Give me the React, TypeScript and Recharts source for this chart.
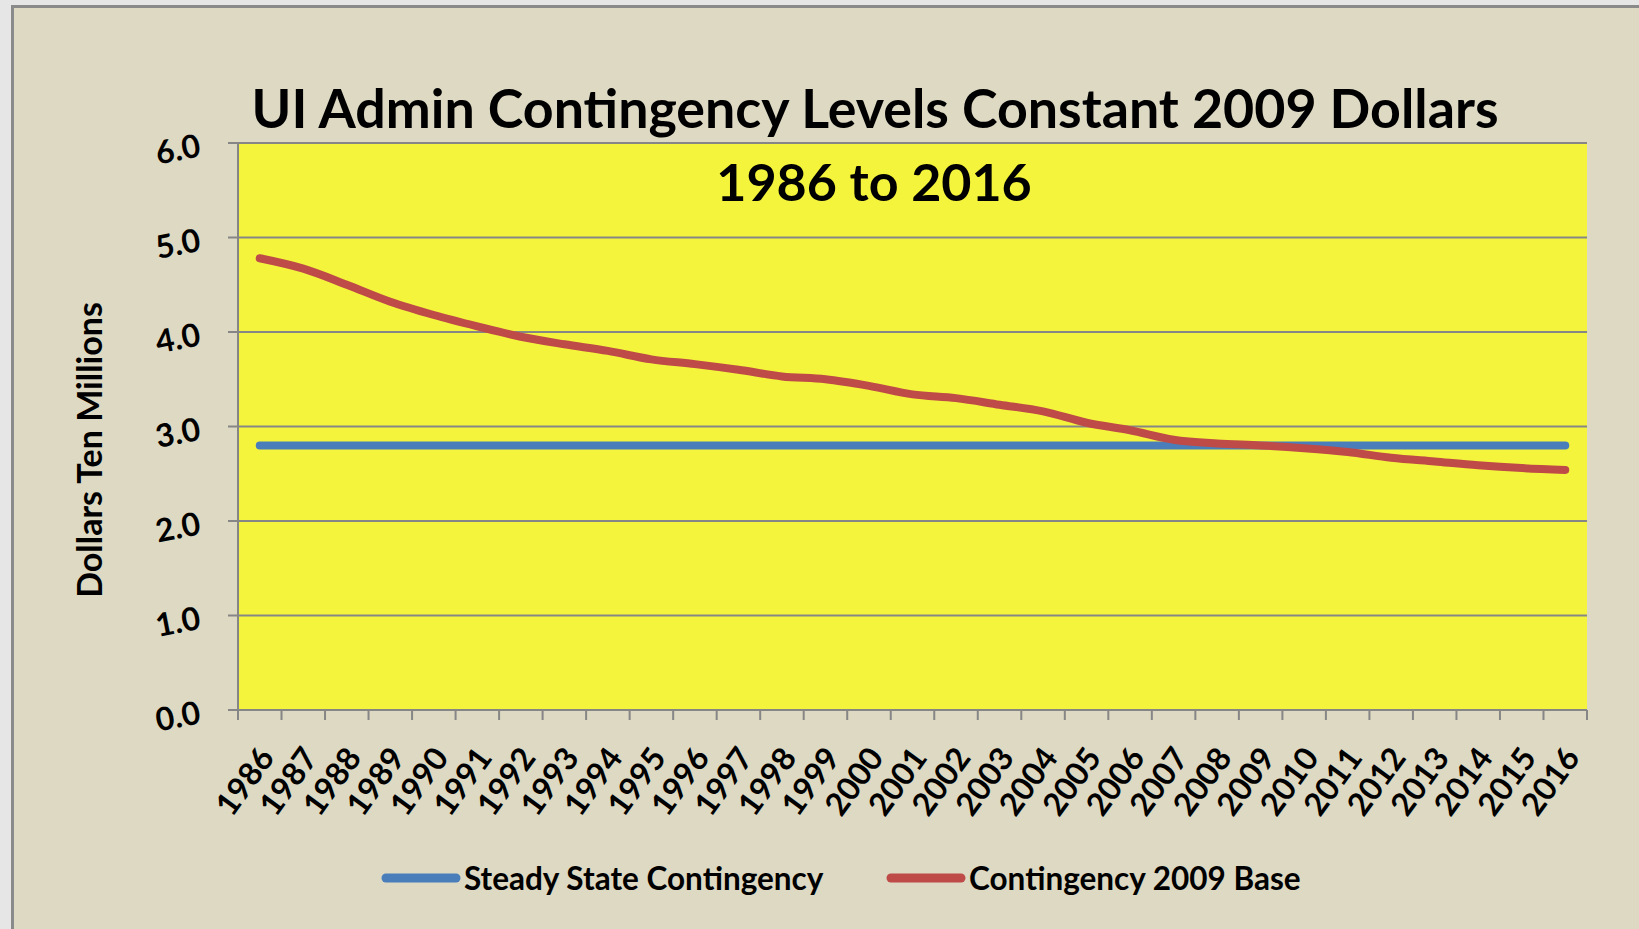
import React from "react";
import { LineChart, Line, XAxis, YAxis, CartesianGrid, Legend } from "recharts";

const years = [
  "1986", "1987", "1988", "1989", "1990", "1991", "1992", "1993", "1994", "1995",
  "1996", "1997", "1998", "1999", "2000", "2001", "2002", "2003", "2004", "2005",
  "2006", "2007", "2008", "2009", "2010", "2011", "2012", "2013", "2014", "2015", "2016",
];

const steadyState = [
  2.8, 2.8, 2.8, 2.8, 2.8, 2.8, 2.8, 2.8, 2.8, 2.8,
  2.8, 2.8, 2.8, 2.8, 2.8, 2.8, 2.8, 2.8, 2.8, 2.8,
  2.8, 2.8, 2.8, 2.8, 2.8, 2.8, 2.8, 2.8, 2.8, 2.8, 2.8,
];

const base2009 = [
  4.78, 4.67, 4.5, 4.32, 4.18, 4.06, 3.95, 3.87, 3.8, 3.71,
  3.66, 3.6, 3.53, 3.5, 3.43, 3.34, 3.3, 3.23, 3.16, 3.04,
  2.96, 2.86, 2.82, 2.8, 2.77, 2.73, 2.67, 2.63, 2.59, 2.56, 2.54,
];

const seriesNames = ["Steady State Contingency", "Contingency 2009 Base"];

const yTicks = [0, 1, 2, 3, 4, 5, 6];
// category boundaries for the tick marks under the plot
const edgeTicks = [
  0, 1, 2, 3, 4, 5, 6, 7, 8, 9, 10, 11, 12, 13, 14, 15,
  16, 17, 18, 19, 20, 21, 22, 23, 24, 25, 26, 27, 28, 29, 30, 31,
];

const BLUE = "#4a7ebb";
const RED = "#be4b48";
const GRID = "#868686";
const FONT = "Lato, 'Open Sans', sans-serif";

// pos = middle of each year's slot on the boundary axis
const rows = years.map((year, i) => ({
  year,
  pos: i + 0.5,
  steady: steadyState[i],
  base: base2009[i],
}));

function YTick(props: any) {
  const { x, y, payload } = props;
  const tx = x - 24;
  const ty = y + 13;
  return (
    <text
      x={tx}
      y={ty}
      textAnchor="end"
      transform={`rotate(-11, ${tx}, ${ty})`}
      fontFamily={FONT}
      fontWeight={700}
      fontSize={32}
      fill="#000"
    >
      {Number(payload.value).toFixed(1)}
    </text>
  );
}

function XTick(props: any) {
  const { x, y, payload } = props;
  const tx = x + 16;
  const ty = y + 36;
  return (
    <text
      x={tx}
      y={ty}
      textAnchor="end"
      transform={`rotate(-54, ${tx}, ${ty})`}
      fontFamily={FONT}
      fontWeight={700}
      fontSize={32}
      fill="#000"
    >
      {payload.value}
    </text>
  );
}

const legendLefts = [381, 886];

function LegendContent(props: any) {
  const items = [...(props.payload || [])].sort(
    (a: any, b: any) => seriesNames.indexOf(a.value) - seriesNames.indexOf(b.value)
  );
  return (
    <div style={{ position: "relative", width: 1639, height: 46 }}>
      {items.map((it: any, i: number) => (
        <div
          key={it.value}
          style={{
            position: "absolute",
            left: legendLefts[i],
            top: 0,
            height: 46,
            display: "flex",
            alignItems: "center",
          }}
        >
          <svg width={80} height={12}>
            <line x1={5} y1={6} x2={75} y2={6} stroke={it.color} strokeWidth={9} strokeLinecap="round" />
          </svg>
          <span style={{ marginLeft: 3, fontFamily: FONT, fontWeight: 700, fontSize: 31.5, color: "#000" }}>
            {it.value}
          </span>
        </div>
      ))}
    </div>
  );
}

export default function App() {
  return (
    <div
      style={{
        position: "absolute",
        left: 0,
        top: 0,
        width: 1639,
        height: 929,
        overflow: "hidden",
        background: "#e6e6e6",
      }}
    >
      <div
        style={{
          position: "absolute",
          left: 11,
          top: 5,
          width: 1700,
          height: 1000,
          background: "#ddd9c3",
          border: "3px solid #8a8a8a",
        }}
      />
      <div style={{ position: "absolute", left: 0, top: 0 }}>
        <LineChart width={1639} height={929} data={rows} margin={{ top: 143, right: 52, bottom: 0, left: 0 }}>
          <CartesianGrid vertical={false} fill="#f4f43c" fillOpacity={1} stroke={GRID} strokeWidth={2} />
          <XAxis
            dataKey="pos"
            type="number"
            domain={[0, 31]}
            ticks={edgeTicks}
            interval={0}
            tick={() => <g />}
            tickSize={10}
            height={12}
            axisLine={{ stroke: GRID, strokeWidth: 2 }}
            tickLine={{ stroke: GRID, strokeWidth: 2 }}
          />
          <XAxis
            xAxisId="cat"
            dataKey="year"
            scale="band"
            interval={0}
            height={207}
            tickSize={0}
            tickMargin={0}
            axisLine={false}
            tickLine={false}
            tick={<XTick />}
          />
          <YAxis
            width={238}
            domain={[0, 6]}
            ticks={yTicks}
            interval={0}
            tickSize={10}
            axisLine={{ stroke: GRID, strokeWidth: 2 }}
            tickLine={{ stroke: GRID, strokeWidth: 2 }}
            tick={<YTick />}
          />
          <Legend
            layout="horizontal"
            verticalAlign="middle"
            align="center"
            wrapperStyle={{ left: 0, top: 855, width: 1639, height: 46 }}
            content={<LegendContent />}
          />
          <Line
            type="monotone"
            dataKey="steady"
            name={seriesNames[0]}
            stroke={BLUE}
            strokeWidth={8}
            strokeLinecap="round"
            dot={false}
            isAnimationActive={false}
          />
          <Line
            type="monotone"
            dataKey="base"
            name={seriesNames[1]}
            stroke={RED}
            strokeWidth={8}
            strokeLinecap="round"
            dot={false}
            isAnimationActive={false}
          />
        </LineChart>
      </div>
      <svg width={1639} height={929} style={{ position: "absolute", left: 0, top: 0, pointerEvents: "none" }}>
        <text
          x={875}
          y={128}
          textAnchor="middle"
          fontFamily={FONT}
          fontWeight={700}
          fontSize={54}
          textLength={1247}
          lengthAdjust="spacingAndGlyphs"
          fill="#000"
        >
          UI Admin Contingency Levels Constant 2009 Dollars
        </text>
        <text x={874} y={201} textAnchor="middle" fontFamily={FONT} fontWeight={700} fontSize={52} fill="#000">
          1986 to 2016
        </text>
        <text
          x={102}
          y={450}
          textAnchor="middle"
          transform="rotate(-90, 102, 450)"
          fontFamily={FONT}
          fontWeight={700}
          fontSize={34}
          fill="#000"
        >
          Dollars Ten Millions
        </text>
      </svg>
    </div>
  );
}
